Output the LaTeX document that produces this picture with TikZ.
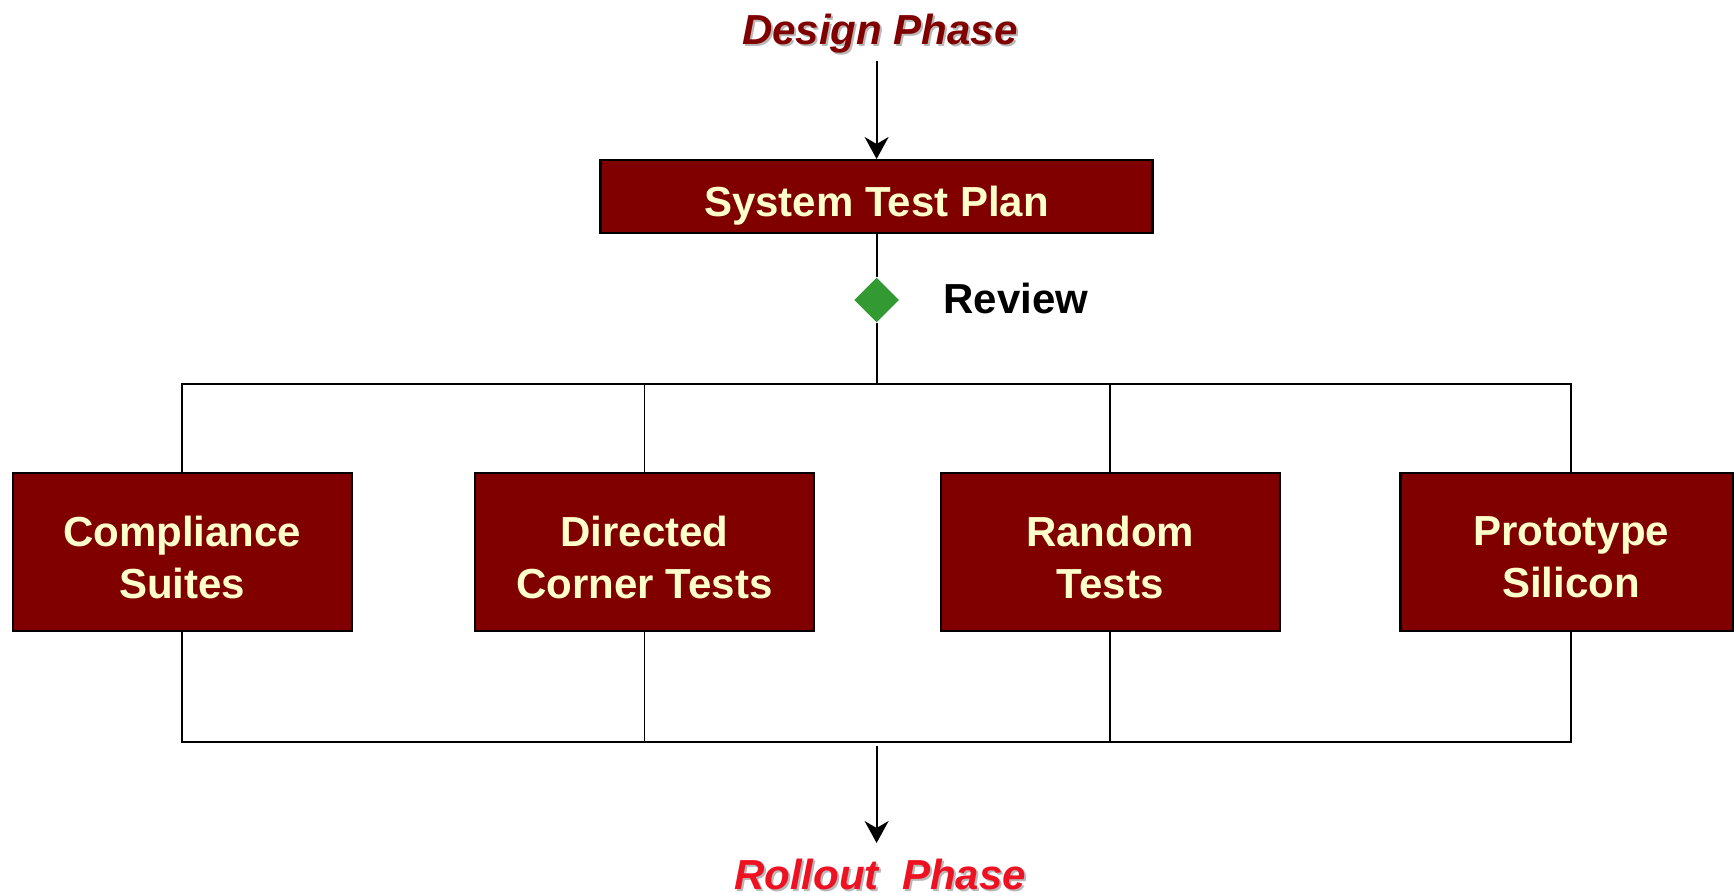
\documentclass[tikz,border=0pt]{standalone}
\usepackage{fontspec}
\setmainfont{Liberation Sans}
\usetikzlibrary{arrows.meta,shapes.geometric}
\definecolor{maroonbox}{HTML}{800000}
\definecolor{creamtext}{HTML}{FFFFCC}
\definecolor{reviewgreen}{HTML}{339933}
\definecolor{designred}{HTML}{800000}
\definecolor{rolloutred}{HTML}{EE1122}
\definecolor{shadowgray}{HTML}{B8B8B8}
\begin{document}
\begin{tikzpicture}[x=0.5pt,y=-0.5pt,
  bigfont/.style={font=\fontsize{21pt}{25.8pt}\selectfont\bfseries},
  testbox/.style={draw=black,line width=1.2pt,fill=maroonbox,inner sep=0pt,
    minimum width=169.5pt,minimum height=79pt},
  boxtext/.style={bigfont,text=creamtext,align=center,inner sep=0pt},
  phase/.style={font=\fontsize{21pt}{25.8pt}\selectfont\bfseries\itshape,inner sep=0pt,anchor=base},
  wire/.style={draw=black,line width=0.95pt},
  flow/.style={wire,-{Stealth[length=11pt,width=12pt,inset=3.5pt]}}]
\useasboundingbox (0,0) rectangle (1734,893);

% phase titles with their soft drop shadows
\node[phase,text=shadowgray] (designshadow) at (882,47) {Design Phase};
\node[phase,text=designred] (design) at (880,45) {Design Phase};
\node[phase,text=shadowgray] (rolloutshadow) at (882,891) {Rollout\ \ Phase};
\node[phase,text=rolloutred] (rollout) at (880,889) {Rollout\ \ Phase};

% test plan and review gate
\node[testbox,minimum width=276pt,minimum height=36.5pt] (plan) at (876.6,196.7) {};
\node[boxtext] (plantext) at ([yshift=-4.4pt]plan.center) {System Test Plan};
\node[diamond,fill=reviewgreen,inner sep=0pt,minimum width=22.5pt,minimum height=22.5pt] (rev) at (876.6,300) {};
\node[bigfont,text=black,inner sep=0pt,anchor=base west] (revlabel) at (943,314) {Review};

% the four kinds of testing
\node[testbox] (b1) at (182.2,552) {};
\node[testbox] (b2) at (644.5,552) {};
\node[testbox] (b3) at (1110.2,552) {};
\node[testbox,minimum width=166.5pt] (b4) at (1567,552) {};
\node[boxtext] (b1text) at ([yshift=-2.75pt]b1.center) {Compliance\\Suites};
\node[boxtext] (b2text) at ([yshift=-2.75pt]b2.center) {Directed\\Corner Tests};
\node[boxtext] (b3text) at ([yshift=-2.75pt]b3.center) {Random\\Tests};
\node[boxtext] (b4text) at ([xshift=2pt,yshift=-2.75pt]b4.center) {Prototype\\Silicon};

% bus lines
\coordinate (topbus) at (876.6,384);
\coordinate (botbus) at (876.6,742);
\coordinate (b4top) at ([xshift=2pt]b4.north);
\coordinate (b4bot) at ([xshift=2pt]b4.south);
\coordinate (designtail) at (876.6,60.7);
\coordinate (rollouttip) at (876.6,843);

\draw[flow] (designtail) -- (plan.north);
\draw[wire] (plan.south) -- (rev.north);
\draw[wire] (rev.south) -- (topbus);

\draw[wire] (b1.north) |- (topbus -| b4top) -- (b4top);
\draw[wire] (b2.north) -- (b2.north |- topbus);
\draw[wire] (b3.north) -- (b3.north |- topbus);

\draw[wire] (b1.south) |- (botbus -| b4bot) -- (b4bot);
\draw[wire] (b2.south) -- (b2.south |- botbus);
\draw[wire] (b3.south) -- (b3.south |- botbus);

\draw[flow,shorten <=2.2pt] (botbus) -- (rollouttip);
\end{tikzpicture}
\end{document}
